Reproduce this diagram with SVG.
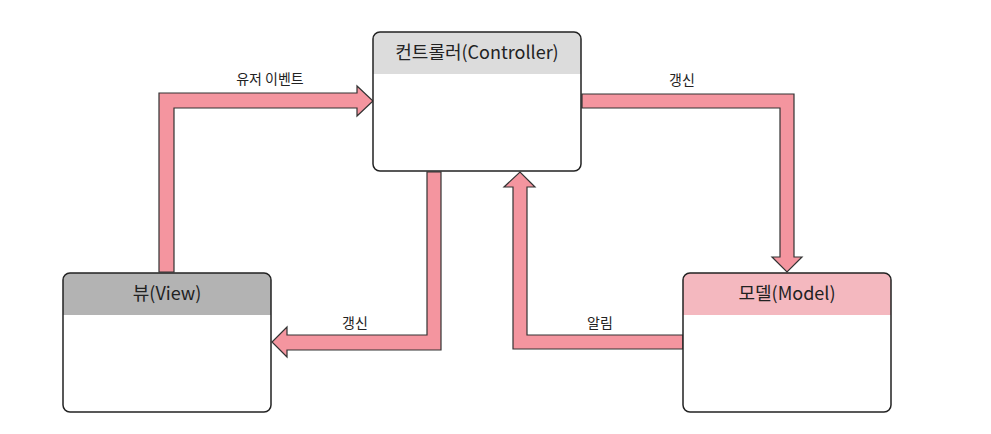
<svg xmlns="http://www.w3.org/2000/svg" width="991" height="434" viewBox="0 0 991 434">
<style>
.box{fill:none;stroke:#222;stroke-width:1.5}
.title{font-family:"Noto Sans CJK KR","Noto Sans",sans-serif;font-size:18px;fill:#222;text-anchor:middle}
.lbl{font-family:"Noto Sans CJK KR","Noto Sans",sans-serif;font-size:14px;fill:#222;text-anchor:middle}
.arrow{fill:#f4959f;stroke:#333;stroke-width:1.2;stroke-linejoin:miter}
</style>
<defs>
<clipPath id="cc"><rect x="373" y="32" width="208" height="139" rx="7"/></clipPath>
<clipPath id="cv"><rect x="63" y="273" width="208" height="139" rx="7"/></clipPath>
<clipPath id="cm"><rect x="683" y="273" width="208" height="139" rx="7"/></clipPath>
</defs>
<rect width="991" height="434" fill="#fff"/>
<g id="connectors">
<g id="user-event">
<polygon class="arrow" points="159,272 159,93 357,93 357,86 373,101 357,116 357,108 174,108 174,272"/>
<text class="lbl" x="270" y="84">유저 이벤트</text>
</g>
<g id="update-model">
<polygon class="arrow" points="582,94 794,94 794,257 802,257 787,272 772,257 780,257 780,108 582,108"/>
<text class="lbl" x="682" y="85">갱신</text>
</g>
<g id="update-view">
<polygon class="arrow" points="427,172 441,172 441,350 287,350 287,357 272,342 287,327 287,335 427,335"/>
<text class="lbl" x="355" y="328">갱신</text>
</g>
<g id="notify">
<polygon class="arrow" points="683,335 683,349 513,349 513,187 504,187 520,172 535,187 527,187 527,335"/>
<text class="lbl" x="600" y="328">알림</text>
</g>
</g>
<g id="controller">
<rect x="373" y="32" width="208" height="139" rx="7" fill="#fff"/>
<rect x="373" y="32" width="208" height="42" fill="#dcdcdc" clip-path="url(#cc)"/>
<rect class="box" x="373" y="32" width="208" height="139" rx="7"/>
<text class="title" x="477" y="59">컨트롤러(Controller)</text>
</g>
<g id="view">
<rect x="63" y="273" width="208" height="139" rx="7" fill="#fff"/>
<rect x="63" y="273" width="208" height="42" fill="#b3b3b3" clip-path="url(#cv)"/>
<rect class="box" x="63" y="273" width="208" height="139" rx="7"/>
<text class="title" x="167" y="300">뷰(View)</text>
</g>
<g id="model">
<rect x="683" y="273" width="208" height="139" rx="7" fill="#fff"/>
<rect x="683" y="273" width="208" height="42" fill="#f4b8bf" clip-path="url(#cm)"/>
<rect class="box" x="683" y="273" width="208" height="139" rx="7"/>
<text class="title" x="787" y="300">모델(Model)</text>
</g>
</svg>
